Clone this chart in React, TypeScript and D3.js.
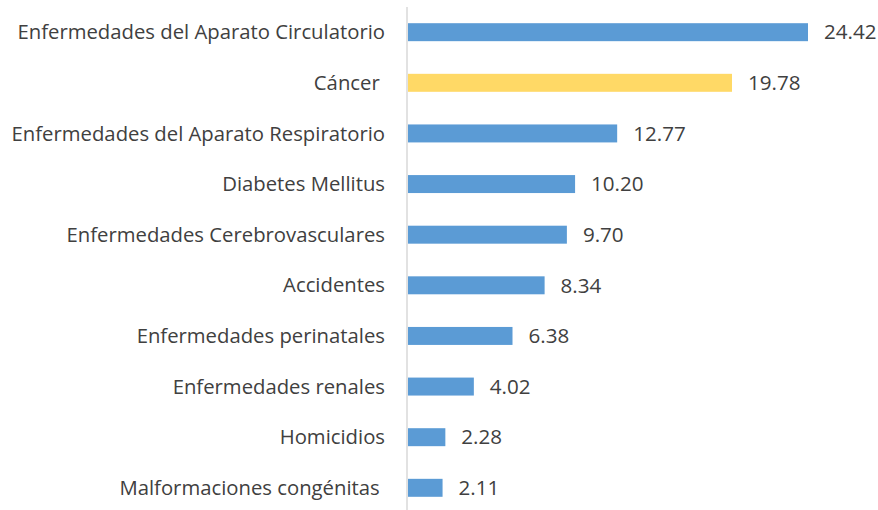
import React from "react"
import * as d3 from "d3"

const categories = [
  "Enfermedades del Aparato Circulatorio",
  "Cáncer ",
  "Enfermedades del Aparato Respiratorio",
  "Diabetes Mellitus",
  "Enfermedades Cerebrovasculares",
  "Accidentes",
  "Enfermedades perinatales",
  "Enfermedades renales",
  "Homicidios",
  "Malformaciones congénitas ",
]
const values = [24.42, 19.78, 12.77, 10.2, 9.7, 8.34, 6.38, 4.02, 2.28, 2.11]
const highlight = ["Cáncer "]

const width = 878
const height = 510
const margin = {top: 7, right: 70, bottom: 0, left: 408}

export default function App() {
  const x = d3.scaleLinear()
    .domain([0, 24.42])
    .range([margin.left, 808])

  const y = d3.scaleBand()
    .domain(categories)
    .range([7, 513])
    .paddingInner(0.645)
    .paddingOuter(0.32)

  const font = "'Open Sans', Lato, sans-serif"

  return (
    <svg width={width} height={height}
      style={{position: "absolute", left: 0, top: 0, background: "#fff"}}>
      {categories.map((c, i) => {
        const yy = y(c) as number
        const cy = yy + y.bandwidth() / 2
        return (
          <g key={c}>
            <rect x={x(0)} y={yy} width={x(values[i]) - x(0)} height={y.bandwidth()}
              fill={highlight.includes(c) ? "#FFD966" : "#5B9BD5"} />
            <text x={385} y={cy} dy="0.35em" textAnchor="end"
              fontFamily={font} fontSize={20.3} fill="#404040"
              style={{whiteSpace: "pre"}}>{c}</text>
            <text x={x(values[i]) + 16} y={cy} dy="0.35em"
              fontFamily={font} fontSize={20.6} fill="#404040">{values[i].toFixed(2)}</text>
          </g>
        )
      })}
      <line x1={407} x2={407} y1={7} y2={height} stroke="#d9d9d9" strokeWidth={1.5} />
    </svg>
  )
}
